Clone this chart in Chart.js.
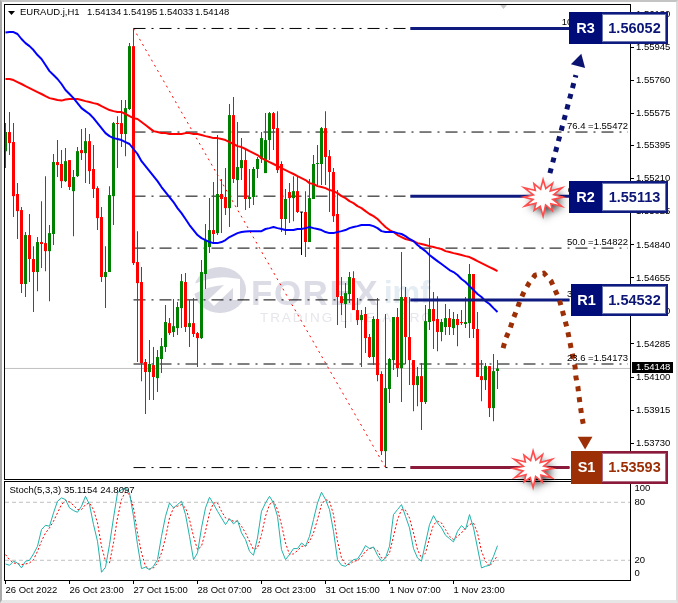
<!DOCTYPE html>
<html>
<head>
<meta charset="utf-8">
<title>EURAUD.j,H1</title>
<script src="https://cdn.jsdelivr.net/npm/chart.js@4/dist/chart.umd.min.js"></script>
<style>
  html, body { margin: 0; padding: 0; background: #fff; overflow: hidden; }
  #page { position: relative; width: 678px; height: 603px; }
  #edge { position: absolute; left: 0; top: 0; width: 678px; height: 603px; box-sizing: border-box;
          border-left: 2px solid #a8a8a8; border-top: 2px solid #c4c4c4; border-right: 2px solid #dcdcdc; border-bottom: 3px solid #e6e6e6; }
  canvas { position: absolute; left: 0; }
  #mainChart { top: 0; z-index: 2; }
  #stochChart { top: 480px; z-index: 1; }
</style>
</head>
<body>
<div id="page">
  <div id="edge"></div>
  <canvas id="stochChart" width="678" height="123"></canvas>
  <canvas id="mainChart" width="678" height="500"></canvas>
</div>
<script>
const symbol = "EURAUD.j,H1";
const ohlcText = ["1.54134", "1.54195", "1.54033", "1.54148"];
const stochText = ["Stoch(5,3,3)", "35.1154", "24.8097"];
const lastPrice = 1.54148;

const opens = [
  1.55365,1.55472,1.55416,1.55125,1.55035,1.54621,1.54895,1.54761,1.54688,1.54856,
  1.54850,1.54805,1.54901,1.55304,1.55293,1.55197,1.55315,1.55141,1.55225,1.55371,
  1.55354,1.55421,1.55265,1.55158,1.54996,1.54660,1.54688,1.55113,1.55522,1.55522,
  1.55461,1.55601,1.55953,1.54744,1.54632,1.54184,1.54128,1.54167,1.54094,1.54201,
  1.54268,1.54402,1.54352,1.54374,1.54486,1.54632,1.54380,1.54402,1.54346,1.54318,
  1.54677,1.54828,1.54923,1.54906,1.55125,1.55108,1.55046,1.55567,1.55203,1.55270,
  1.55315,1.55097,1.55108,1.55265,1.55321,1.55242,1.55427,1.55578,1.55494,1.55293,
  1.54985,1.55136,1.55102,1.55141,1.55021,1.55024,1.54856,1.55097,1.55293,1.55293,
  1.55494,1.55337,1.55248,1.55013,1.54553,1.54509,1.54565,1.54654,1.54475,1.54419,
  1.54453,1.54324,1.54212,1.54425,1.54117,1.53685,1.54033,1.54195,1.54436,1.54150,
  1.54548,1.54324,1.54195,1.54055,1.54105,1.53960,1.54408,1.54481,1.54425,1.54352,
  1.54380,1.54430,1.54374,1.54425,1.54408,1.54397,1.54402,1.54677,1.54369,1.54105,
  1.54083,1.54161,1.53926,1.54134
];
const highs = [
  1.55522,1.55584,1.55522,1.55186,1.55052,1.54912,1.55013,1.54833,1.54884,1.55085,
  1.55225,1.54951,1.55349,1.55427,1.55371,1.55382,1.55315,1.55259,1.55388,1.55489,
  1.55494,1.55461,1.55399,1.55169,1.55052,1.54833,1.55169,1.55528,1.55561,1.55651,
  1.55651,1.55970,1.56052,1.54917,1.54716,1.54201,1.54307,1.54268,1.54251,1.54318,
  1.54503,1.54430,1.54537,1.54520,1.54677,1.54682,1.54531,1.54542,1.54352,1.54755,
  1.54957,1.55102,1.55192,1.55455,1.55209,1.55270,1.55629,1.55668,1.55528,1.55438,
  1.55377,1.55265,1.55276,1.55332,1.55472,1.55578,1.55584,1.55584,1.55589,1.55309,
  1.55153,1.55186,1.55225,1.55220,1.55024,1.55141,1.55209,1.55343,1.55399,1.55500,
  1.55589,1.55371,1.55270,1.55147,1.54660,1.54626,1.54688,1.54693,1.54542,1.54475,
  1.54492,1.54341,1.54441,1.54542,1.54133,1.54453,1.54206,1.54436,1.54486,1.54800,
  1.54604,1.54548,1.54195,1.54156,1.54178,1.54503,1.54878,1.54576,1.54553,1.54425,
  1.54509,1.54481,1.54464,1.54453,1.54475,1.54548,1.54733,1.54677,1.54464,1.54195,
  1.54178,1.54161,1.54229,1.54195
];
const lows = [
  1.55270,1.55343,1.54996,1.54873,1.54570,1.54548,1.54632,1.54464,1.54581,1.54710,
  1.54693,1.54525,1.54839,1.55220,1.55158,1.55192,1.55147,1.54889,1.55220,1.55315,
  1.55186,1.55181,1.55102,1.54923,1.54632,1.54486,1.54688,1.54951,1.55270,1.55388,
  1.55337,1.55595,1.54727,1.54184,1.54077,1.53893,1.53971,1.53971,1.54016,1.54122,
  1.54240,1.54335,1.54324,1.54335,1.54374,1.54352,1.54268,1.54324,1.54156,1.54313,
  1.54593,1.54794,1.54850,1.54895,1.54906,1.55007,1.54940,1.55186,1.55052,1.55203,
  1.55035,1.55046,1.55063,1.55214,1.55298,1.55242,1.55315,1.55371,1.55242,1.54912,
  1.54895,1.54962,1.54973,1.55018,1.54783,1.54772,1.54856,1.55097,1.55175,1.55175,
  1.55175,1.55024,1.54968,1.54391,1.54447,1.54374,1.54514,1.54475,1.54391,1.54156,
  1.54234,1.54206,1.54167,1.54077,1.53663,1.53593,1.53954,1.54139,1.54100,1.53960,
  1.54173,1.54055,1.53909,1.53937,1.53803,1.53949,1.54363,1.54257,1.54245,1.54301,
  1.54335,1.54335,1.54335,1.54273,1.54391,1.54374,1.54318,1.54318,1.54100,1.53965,
  1.54027,1.53876,1.53853,1.54033
];
const closes = [
  1.55472,1.55410,1.55113,1.55029,1.54621,1.54895,1.54761,1.54688,1.54856,1.54845,
  1.54805,1.54906,1.55304,1.55287,1.55197,1.55309,1.55164,1.55220,1.55365,1.55354,
  1.55421,1.55253,1.55153,1.54990,1.54660,1.54688,1.55119,1.55522,1.55517,1.55461,
  1.55606,1.55953,1.54738,1.54626,1.54178,1.54128,1.54173,1.54100,1.54212,1.54273,
  1.54408,1.54346,1.54385,1.54492,1.54637,1.54380,1.54402,1.54341,1.54318,1.54688,
  1.54867,1.54923,1.54901,1.55125,1.55097,1.55046,1.55567,1.55209,1.55276,1.55315,
  1.55097,1.55108,1.55265,1.55321,1.55438,1.55427,1.55578,1.55489,1.55259,1.54985,
  1.55097,1.55102,1.55141,1.55024,1.55021,1.54856,1.55102,1.55293,1.55298,1.55494,
  1.55332,1.55248,1.55001,1.54548,1.54514,1.54570,1.54660,1.54475,1.54419,1.54447,
  1.54318,1.54212,1.54425,1.54111,1.53685,1.54038,1.54201,1.54436,1.54150,1.54548,
  1.54324,1.54195,1.54055,1.54105,1.53960,1.54413,1.54481,1.54413,1.54352,1.54408,
  1.54430,1.54380,1.54425,1.54391,1.54402,1.54408,1.54677,1.54369,1.54100,1.54083,
  1.54161,1.53926,1.54133,1.54148
];

const blueMa = [
  1.56029,1.56032,1.56032,1.56021,1.55993,1.55970,1.55953,1.55931,1.55903,1.55881,
  1.55847,1.55813,1.55791,1.55769,1.55741,1.55707,1.55685,1.55662,1.55634,1.55606,
  1.55589,1.55573,1.55550,1.55522,1.55494,1.55466,1.55449,1.55438,1.55433,1.55427,
  1.55416,1.55405,1.55377,1.55349,1.55309,1.55281,1.55253,1.55225,1.55197,1.55164,
  1.55136,1.55108,1.55080,1.55046,1.55018,1.54985,1.54951,1.54923,1.54895,1.54878,
  1.54867,1.54856,1.54850,1.54850,1.54856,1.54867,1.54884,1.54895,1.54906,1.54912,
  1.54915,1.54917,1.54917,1.54917,1.54917,1.54929,1.54934,1.54940,1.54934,1.54929,
  1.54923,1.54923,1.54923,1.54929,1.54929,1.54934,1.54940,1.54934,1.54929,1.54923,
  1.54912,1.54906,1.54906,1.54912,1.54917,1.54923,1.54934,1.54940,1.54945,1.54951,
  1.54951,1.54951,1.54945,1.54934,1.54917,1.54912,1.54912,1.54912,1.54906,1.54901,
  1.54889,1.54873,1.54861,1.54839,1.54822,1.54805,1.54783,1.54766,1.54749,1.54733,
  1.54716,1.54699,1.54688,1.54671,1.54649,1.54632,1.54609,1.54587,1.54565,1.54548,
  1.54525,1.54509,1.54486,1.54464
];
const redMa = [
  1.55769,1.55769,1.55763,1.55752,1.55741,1.55729,1.55718,1.55707,1.55696,1.55685,
  1.55673,1.55662,1.55657,1.55651,1.55648,1.55654,1.55657,1.55657,1.55657,1.55651,
  1.55645,1.55640,1.55634,1.55629,1.55617,1.55606,1.55595,1.55589,1.55584,1.55584,
  1.55573,1.55561,1.55550,1.55545,1.55528,1.55511,1.55494,1.55477,1.55472,1.55466,
  1.55466,1.55461,1.55461,1.55461,1.55461,1.55466,1.55466,1.55461,1.55461,1.55455,
  1.55449,1.55444,1.55438,1.55438,1.55433,1.55427,1.55416,1.55405,1.55393,1.55388,
  1.55377,1.55365,1.55354,1.55343,1.55326,1.55315,1.55304,1.55293,1.55281,1.55270,
  1.55259,1.55248,1.55237,1.55225,1.55214,1.55203,1.55186,1.55181,1.55169,1.55164,
  1.55158,1.55147,1.55141,1.55130,1.55113,1.55102,1.55085,1.55074,1.55057,1.55046,
  1.55029,1.55013,1.55001,1.54985,1.54962,1.54940,1.54923,1.54912,1.54895,1.54884,
  1.54873,1.54867,1.54861,1.54850,1.54845,1.54839,1.54833,1.54828,1.54822,1.54817,
  1.54805,1.54800,1.54794,1.54789,1.54783,1.54777,1.54772,1.54761,1.54749,1.54738,
  1.54727,1.54716,1.54705,1.54693
];

const stochMain = [
  16.2,14.8,19,17.2,12.1,19,20,26.6,34.5,51.7,
  56.2,55.2,69,81.1,84.5,82.8,74.2,71.4,69.7,75.9,
  86.2,77.6,56.9,39.7,7.6,12.8,36.2,63.8,89.7,93.1,
  94.9,89.7,65.5,36.2,11.4,12.8,10.3,13.8,20.7,44.8,
  65.5,79.3,74.2,77.6,81.1,67.3,44.8,20.7,27.6,53.5,
  74.2,85.2,78.3,70.7,63.8,56.9,63.1,57.6,61.4,48.3,
  41.4,29.3,25.2,43.1,70.7,79.3,86.2,79.3,65.5,31,
  20.7,25.9,32.1,32.1,37.9,34.5,44.8,62.1,79.3,90.4,
  82.8,72.4,50,20.7,14.8,13.8,17.2,20.7,21.4,27.6,
  35.2,32.1,33.8,25.2,19,22.4,34.5,67.3,72.4,77.6,
  65.5,53.5,32.1,22.4,19,37.9,56.9,66.2,58.6,53.5,
  45.9,42.4,39,50,55.9,51.7,67.3,53.5,32.8,12.1,
  13.8,14.8,24.1,35.1
];
const stochSignal = [
  25.9,20.7,17.2,16.6,15.5,16.2,17.2,20.7,29.3,39.7,
  48.3,53.5,60.4,69,77.6,81.8,80.4,76.9,72.4,72.4,
  77.6,79.3,72.4,58.6,34.5,19,17.2,37.9,63.8,82.8,
  90.7,88,74.2,48.3,27.6,13.8,11,12.1,17.2,27.6,
  43.1,63.8,74.2,75.9,77.6,74.2,62.1,44.8,31,34.5,
  50,69,79.3,79.3,70.7,63.8,62.1,60.4,60.4,55.2,
  48.3,39.7,31,32.8,46.6,65.5,77.6,81.1,72.4,56.9,
  37.9,25.9,26.6,30,34.5,34.5,39.7,48.3,62.1,77.6,
  82.8,81.1,67.3,39.7,22.4,16.2,15.5,19,19.7,23.5,
  29.3,32.1,32.8,30,22.4,22.4,27.6,44.8,62.1,72.4,
  71.8,63.8,48.3,31,22.4,27.6,43.1,56.9,60.4,58.6,
  51.7,44.8,41.4,44.8,48.3,53.5,56.9,58.6,48.3,29.3,
  19,13.8,19,24.8
];

const fibLevels = ["100.0", "76.4", "61.8", "50.0", "38.2", "23.6", "0.0"];
const fibPrices = [1.56052, 1.55472, 1.55113, 1.54822, 1.54532, 1.54173, 1.53593];

const targetNames = ["R3", "R2", "R1", "S1"];
const targetPrices = [1.56052, 1.55113, 1.54532, 1.53593];

const priceTicks = [1.56130,1.55945,1.55760,1.55575,1.55395,1.55210,1.55025,1.54840,1.54655,1.54470,1.54285,1.54100,1.53915,1.53730];
const stochTicks = [100, 80, 20, 0];
const stochLabelShift = [5, 0, 0, -6];
const stochLevels = [80, 20];

const timeTickIndex = [0, 16, 32, 48, 64, 80, 96, 112];
const timeTickLabels = ["26 Oct 2022","26 Oct 23:00","27 Oct 15:00","28 Oct 07:00","28 Oct 23:00","31 Oct 15:00","1 Nov 07:00","1 Nov 23:00"];

// forecast arrows, x in bars from the left of the chart
const upArrowX = [136.1, 142.6];
const upArrowY = [1.55242, 1.55791];
const upHeadX = [143.4];
const upHeadY = [1.55864];
const curveX = [124.4,125.1,126.1,126.9,127.9,128.6,129.6,130.9,132.4,134.6,136.4,137.4,138.4,139.1,140.4,140.9,141.4,142.4,142.6,143.1,143.4,144.1,144.6];
const curveY = [1.54262,1.54318,1.54369,1.54425,1.54481,1.54525,1.54576,1.54626,1.54671,1.54682,1.54637,1.54587,1.54537,1.54481,1.54374,1.54318,1.54262,1.54156,1.54100,1.54044,1.53988,1.53876,1.53820];
const curveHeadX = [144.9];
const curveHeadY = [1.53742];

const starX = [134.4, 131.9];
const starY = [1.55113, 1.53593];

const xMin = -0.125, xMax = 156.125;
const FONT = '"Liberation Sans", Arial, sans-serif';
const GREEN = "#008000", RED = "#ff0000", NAVY = "#000c78", MAROON = "#8b1a3b", BROWN = "#9c2f06";

function xy(xs, ys) {
  return xs.map((x, i) => ({ x: x, y: ys[i] }));
}
function series(values) {
  return values.map((v, i) => ({ x: i, y: v }));
}
function candleColor(i) {
  if (closes[i] > opens[i]) return GREEN;
  if (closes[i] < opens[i]) return RED;
  return "#000";
}

const barBase = { type: "bar", grouped: false, categoryPercentage: 1, barPercentage: 1, inflateAmount: 0, borderWidth: 0, minBarLength: 1 };
const lineBase = { type: "line", pointRadius: 0, fill: false, tension: 0, borderJoinStyle: "round" };

const wickSet = Object.assign({}, barBase, {
  data: highs.map((h, i) => ({ x: i, y: [lows[i], h] })),
  backgroundColor: opens.map((o, i) => candleColor(i)),
  maxBarThickness: 1, order: 8,
});
const bodySet = Object.assign({}, barBase, {
  data: opens.map((o, i) => ({ x: i, y: [o, closes[i]] })),
  backgroundColor: opens.map((o, i) => candleColor(i)),
  maxBarThickness: 3, order: 7,
});

const datasets = [wickSet, bodySet];
datasets.push(Object.assign({}, lineBase, { data: [{ x: xMin, y: lastPrice }, { x: xMax, y: lastPrice }], borderColor: "#c0c0c0", borderWidth: 1, order: 10 }));
fibPrices.forEach(function (p) {
  datasets.push(Object.assign({}, lineBase, { data: [{ x: 32, y: p }, { x: 155.6, y: p }], borderColor: "#000", borderWidth: 1, borderDash: [12, 6, 2, 6], order: 9 }));
});
datasets.push(Object.assign({}, lineBase, { data: [{ x: 32, y: fibPrices[0] }, { x: 95, y: fibPrices[6] }], borderColor: RED, borderWidth: 1, borderDash: [2, 4], order: 6 }));
datasets.push(Object.assign({}, lineBase, { data: series(redMa), borderColor: RED, borderWidth: 2, order: 5 }));
datasets.push(Object.assign({}, lineBase, { data: series(blueMa), borderColor: "#0000ff", borderWidth: 2, order: 4 }));
targetPrices.forEach(function (p, i) {
  datasets.push(Object.assign({}, lineBase, { data: [{ x: 101.2, y: p }, { x: 141, y: p }], borderColor: i == 3 ? MAROON : "#101b80", borderWidth: 3, order: 3 }));
});
datasets.push(Object.assign({}, lineBase, { data: xy(upArrowX, upArrowY), borderColor: "#0a1470", borderWidth: 5, borderDash: [5, 6], order: 2 }));
datasets.push(Object.assign({}, lineBase, { data: xy(curveX, curveY), borderColor: BROWN, borderWidth: 5, borderDash: [5, 6], order: 2 }));
datasets.push(Object.assign({}, lineBase, { data: xy(upHeadX, upHeadY), showLine: false, pointStyle: "triangle", pointRadius: 8.5, pointRotation: 15, pointBackgroundColor: "#0a1470", pointBorderWidth: 0, order: 1 }));
datasets.push(Object.assign({}, lineBase, { data: xy(curveHeadX, curveHeadY), showLine: false, pointStyle: "triangle", pointRadius: 8.5, pointRotation: 180, pointBackgroundColor: BROWN, pointBorderWidth: 0, order: 1 }));

function drawFrame(chart) {
  const a = chart.chartArea, ctx = chart.ctx;
  ctx.save();
  ctx.strokeStyle = "#000";
  ctx.lineWidth = 1;
  ctx.strokeRect(Math.floor(a.left) - 0.5, Math.floor(a.top) + 0.5, Math.round(a.right - a.left) + 1, Math.round(a.bottom - a.top));
  ctx.restore();
}

function drawText(ctx, s, x, y, font, color, align) {
  ctx.font = font;
  ctx.fillStyle = color;
  ctx.textAlign = align || "left";
  ctx.textBaseline = "middle";
  ctx.fillText(s, x, y);
}

const watermark = {
  id: "watermark",
  beforeDatasetsDraw(chart) {
    const ctx = chart.ctx;
    ctx.save();
    ctx.fillStyle = "#d9d9e3";
    ctx.beginPath();
    ctx.ellipse(220, 290, 26, 23, 0, 0, Math.PI * 2);
    ctx.fill();
    // swoosh and arrow cut out of the round logo
    ctx.fillStyle = "#fff";
    ctx.beginPath();
    ctx.moveTo(194, 284);
    ctx.quadraticCurveTo(215, 275, 232, 278);
    ctx.lineTo(240, 279);
    ctx.lineTo(240, 300);
    ctx.lineTo(233, 300);
    ctx.lineTo(233, 288);
    ctx.lineTo(214, 306);
    ctx.lineTo(208, 300);
    ctx.lineTo(224, 285);
    ctx.quadraticCurveTo(208, 286, 194, 294);
    ctx.closePath();
    ctx.fill();
    ctx.textBaseline = "middle";
    ctx.textAlign = "left";
    ctx.letterSpacing = "1.5px";
    ctx.font = "bold 35px " + FONT;
    ctx.fillStyle = "#dcdce6";
    ctx.fillText("FOREX", 251, 295);
    ctx.letterSpacing = "0px";
    ctx.font = "bold 31px " + FONT;
    ctx.fillStyle = "#e4edf3";
    ctx.fillText("imf", 384, 294);
    ctx.letterSpacing = "1.9px";
    ctx.font = "13.5px " + FONT;
    ctx.fillStyle = "#e6e6ec";
    ctx.fillText("TRADING LIKE A PRO", 260, 318);
    ctx.restore();
  },
};

function drawStar(ctx, cx, cy) {
  const spikes = [1, 0.5, 1.08, 0.55, 0.92, 0.48, 1.12, 0.55, 0.9, 0.5, 1.05, 0.52, 0.98, 0.5, 1.1, 0.55, 0.92, 0.48, 1.04, 0.52, 0.95, 0.5, 1.1, 0.55];
  ctx.save();
  ctx.beginPath();
  spikes.forEach(function (r, i) {
    const t = (i / spikes.length) * Math.PI * 2;
    const x = cx + Math.cos(t) * 20 * r, y = cy + Math.sin(t) * 17 * r;
    if (i == 0) ctx.moveTo(x, y); else ctx.lineTo(x, y);
  });
  ctx.closePath();
  ctx.shadowColor = "rgba(0,0,0,.7)";
  ctx.shadowBlur = 7;
  ctx.shadowOffsetX = 3;
  ctx.shadowOffsetY = 4;
  ctx.fillStyle = "#fff";
  ctx.fill();
  ctx.shadowColor = "transparent";
  ctx.strokeStyle = "#ff4d4d";
  ctx.lineWidth = 1.6;
  ctx.stroke();
  ctx.restore();
}

function drawTarget(ctx, name, price, cy, i) {
  const left = i == 2 || i == 3 ? 571 : 569, right = 668, split = 602;
  const h = i == 3 ? 33 : 32;
  const top = Math.round(cy - h / 2) + (i == 1 ? 1 : 0);
  const dark = i == 3 ? BROWN : NAVY, rim = i == 3 ? MAROON : "#101b80";
  ctx.fillStyle = rim;
  ctx.fillRect(left, top, right - left, h);
  ctx.fillStyle = dark;
  ctx.fillRect(left, top, split - left, h);
  ctx.fillStyle = "#fff";
  ctx.fillRect(split + 1, top + 3, right - split - 4, h - 6);
  ctx.strokeStyle = i == 3 ? "#b06a80" : "#6a74b0";
  ctx.lineWidth = 1;
  ctx.strokeRect(split + 0.5, top + 2.5, right - split - 3, h - 5);
  drawText(ctx, name, (left + split) / 2, top + h / 2 + 0.5, "bold 14.5px " + FONT, "#fff", "center");
  drawText(ctx, price.toFixed(5), (split + right) / 2 - 0.5, top + h / 2 + 0.5, "bold 14.5px " + FONT, i == 3 ? BROWN : "#0c1676", "center");
}

const annotations = {
  id: "annotations",
  afterDatasetsDraw(chart) {
    drawFrame(chart);
  },
  afterDraw(chart) {
    const ctx = chart.ctx, y = chart.scales.y, x = chart.scales.x;
    const labelFont = "9.5px " + FONT;
    ctx.save();
    // header line
    ctx.fillStyle = "#000";
    ctx.beginPath();
    ctx.moveTo(8, 11);
    ctx.lineTo(15, 11);
    ctx.lineTo(11.5, 15);
    ctx.closePath();
    ctx.fill();
    drawText(ctx, symbol, 20, 12.5, labelFont, "#000");
    [87, 123, 159, 195].forEach(function (px, i) {
      drawText(ctx, ohlcText[i], px, 12.5, labelFont, "#000");
    });
    // small grey marker at the top
    ctx.fillStyle = "#c8c8c8";
    ctx.beginPath();
    ctx.moveTo(500, 5);
    ctx.lineTo(507, 5);
    ctx.lineTo(503.5, 9);
    ctx.closePath();
    ctx.fill();
    // fibo level captions
    fibPrices.forEach(function (p, i) {
      drawText(ctx, fibLevels[i] + " =" + p.toFixed(5), 628, y.getPixelForValue(p) - 6, labelFont, "#000", "right");
    });
    // last price tag
    const py = y.getPixelForValue(lastPrice);
    ctx.fillStyle = "#000";
    ctx.fillRect(632, Math.round(py) - 6, 41, 11);
    drawText(ctx, lastPrice.toFixed(5), 636, Math.round(py) - 0.5, labelFont, "#fff");
    // target boxes and bursts
    targetPrices.forEach(function (p, i) {
      drawTarget(ctx, targetNames[i], p, y.getPixelForValue(p), i);
    });
    starX.forEach(function (sx, i) {
      drawStar(ctx, x.getPixelForValue(sx), y.getPixelForValue(starY[i]) + 1);
    });
    ctx.restore();
  },
};

new Chart(document.getElementById("mainChart"), {
  type: "bar",
  data: { datasets: datasets },
  plugins: [watermark, annotations],
  options: {
    responsive: false,
    animation: false,
    devicePixelRatio: 1,
    events: [],
    layout: { autoPadding: false, padding: { left: 5, top: 4, right: 0, bottom: 21 } },
    plugins: { legend: { display: false }, tooltip: { enabled: false } },
    scales: {
      x: { type: "linear", min: xMin, max: xMax, display: false, offset: false, grid: { offset: false } },
      y: {
        type: "linear",
        position: "right",
        min: 1.53529,
        max: 1.56189,
        afterBuildTicks(scale) { scale.ticks = priceTicks.map((v) => ({ value: v })); },
        afterFit(scale) { scale.width = 48; scale.paddingTop = 0; scale.paddingBottom = 0; },
        border: { display: false },
        grid: { drawOnChartArea: false, drawTicks: true, tickLength: 4, color: "#000" },
        ticks: { color: "#000", padding: 2, font: { family: FONT, size: 9.5 }, autoSkip: false, callback: (v) => Number(v).toFixed(5) },
      },
    },
  },
});

const stochOverlay = {
  id: "stochOverlay",
  afterDatasetsDraw(chart) {
    drawFrame(chart);
  },
  afterDraw(chart) {
    const ctx = chart.ctx, y = chart.scales.y;
    const labelFont = "9.5px " + FONT;
    ctx.save();
    drawText(ctx, stochText.join(" "), 9.5, 10, labelFont, "#000");
    stochTicks.forEach(function (t, i) {
      drawText(ctx, String(t), 634.5, y.getPixelForValue(t) + stochLabelShift[i], labelFont, "#000");
    });
    ctx.restore();
  },
};

const stochSets = [];
stochLevels.forEach(function (v) {
  stochSets.push(Object.assign({}, lineBase, { data: [{ x: xMin, y: v }, { x: xMax, y: v }], borderColor: "#c0c0c0", borderWidth: 1, borderDash: [4, 3], order: 3 }));
});
stochSets.push(Object.assign({}, lineBase, { data: series(stochSignal), borderColor: RED, borderWidth: 1, borderDash: [2, 2], order: 2 }));
stochSets.push(Object.assign({}, lineBase, { data: series(stochMain), borderColor: "#20b2aa", borderWidth: 1, order: 1 }));

new Chart(document.getElementById("stochChart"), {
  type: "line",
  data: { datasets: stochSets },
  plugins: [stochOverlay],
  options: {
    responsive: false,
    animation: false,
    devicePixelRatio: 1,
    events: [],
    layout: { autoPadding: false, padding: { left: 5, top: 1, right: 0, bottom: 3 } },
    plugins: { legend: { display: false }, tooltip: { enabled: false } },
    scales: {
      x: {
        type: "linear",
        min: xMin,
        max: xMax,
        afterBuildTicks(scale) { scale.ticks = timeTickIndex.map((v) => ({ value: v })); },
        afterFit(scale) { scale.height = 20; scale.paddingLeft = 0; scale.paddingRight = 0; },
        border: { display: false },
        grid: { drawOnChartArea: false, drawTicks: true, tickLength: 4, color: "#000" },
        ticks: {
          color: "#000",
          padding: 1,
          align: "start",
          autoSkip: false,
          maxRotation: 0,
          font: { family: FONT, size: 9.5 },
          callback: (v, i) => timeTickLabels[i],
        },
      },
      y: {
        type: "linear",
        position: "right",
        min: -0.4,
        max: 102,
        afterFit(scale) { scale.width = 48; },
        border: { display: false },
        grid: { display: false },
        ticks: { display: false },
      },
    },
  },
});
</script>
</body>
</html>
